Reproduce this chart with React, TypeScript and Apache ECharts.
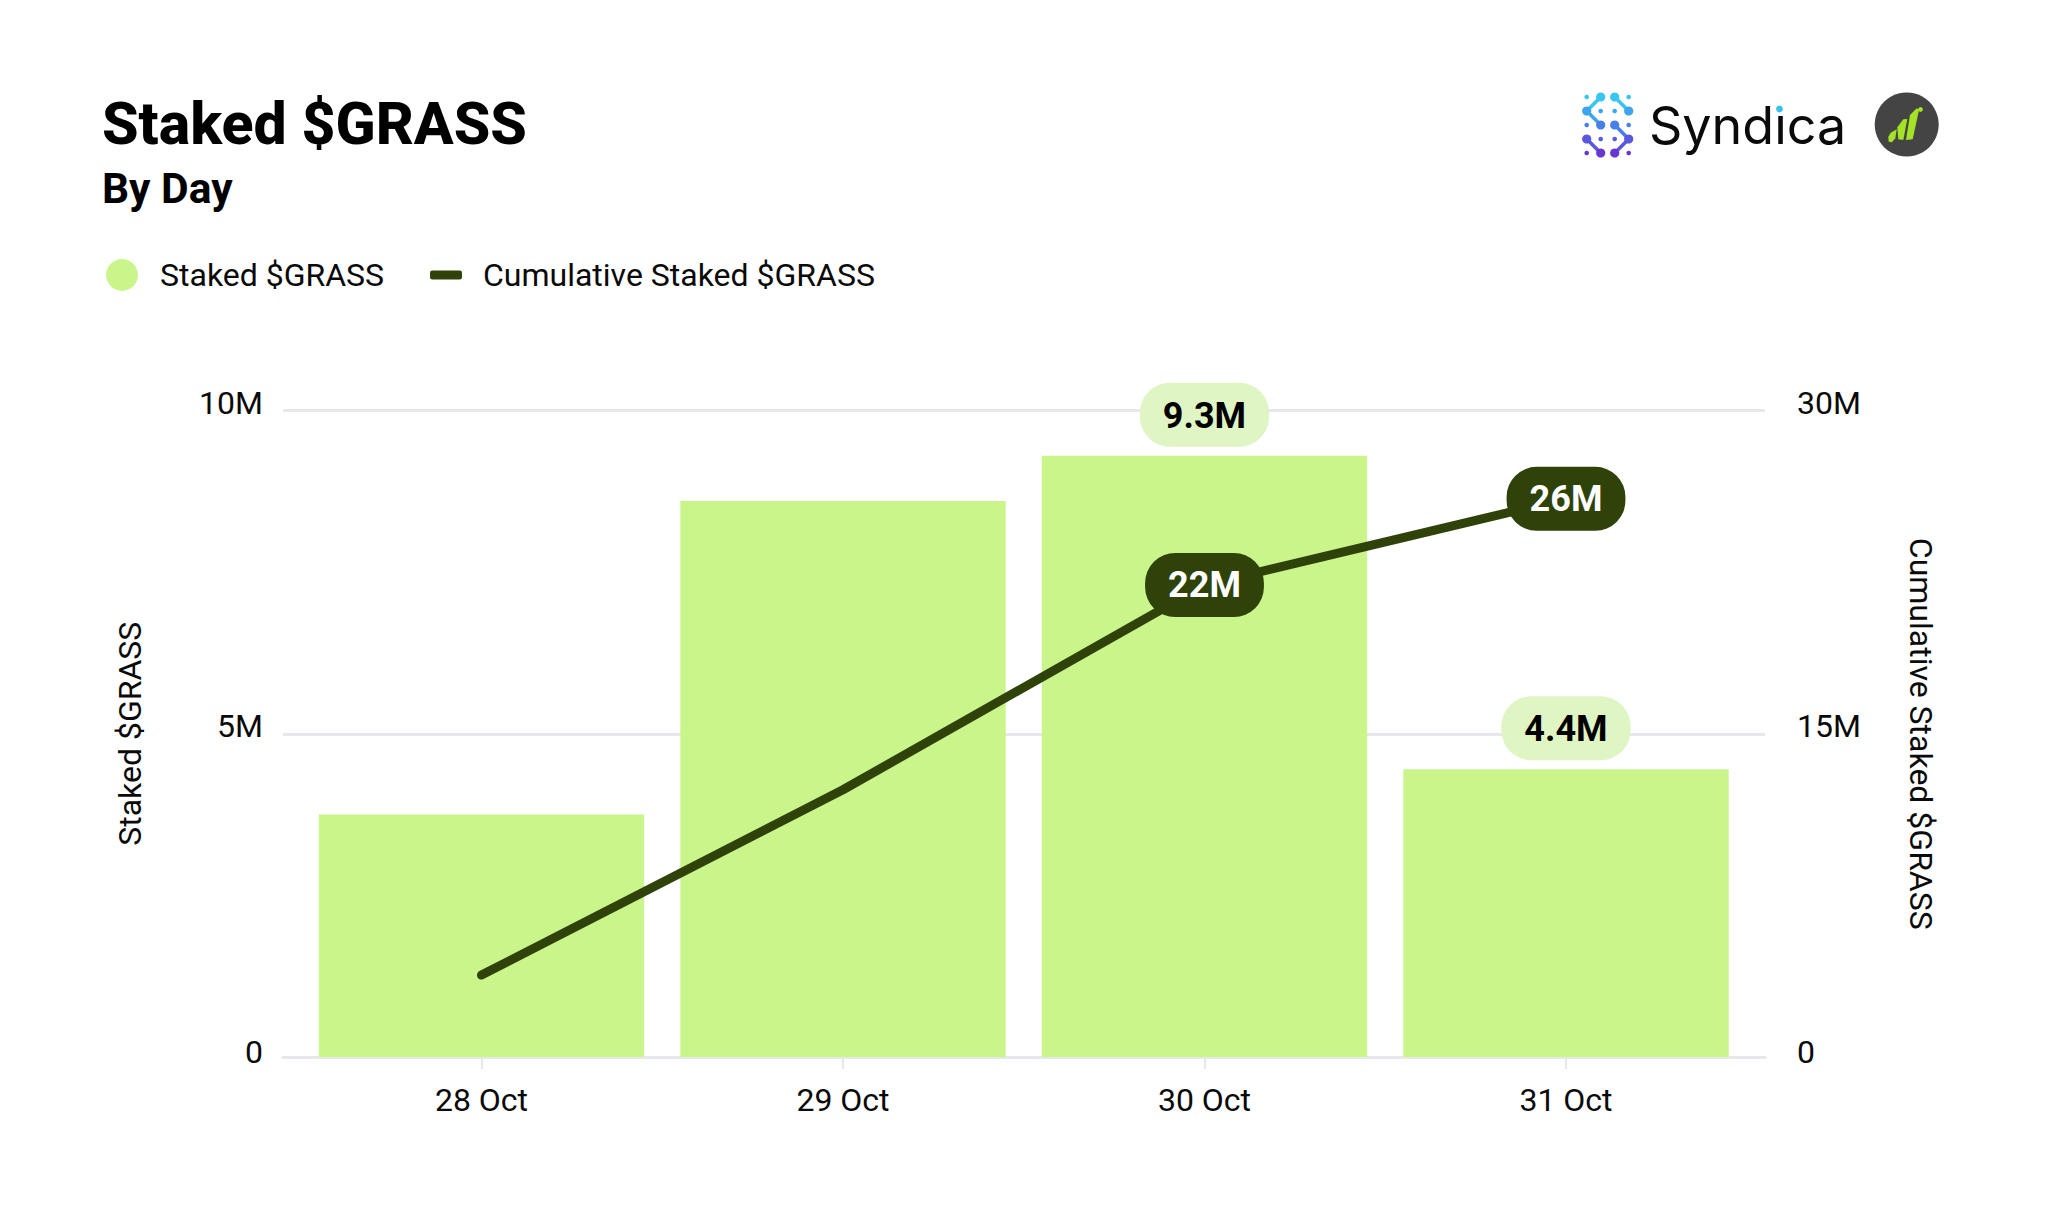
import React, { useEffect, useRef } from "react";
import * as echarts from "echarts";

const categories = ["28 Oct", "29 Oct", "30 Oct", "31 Oct"];
const stakedValues = [3.75, 8.6, 9.3, 4.45];
const cumulativeValues = [3.8, 12.4, 21.9, 25.9];
const stakedLabels = ["", "", "9.3M", "4.4M"];
const cumulativeLabels = ["", "", "22M", "26M"];
const FONT = "Roboto";
const BAR = "#C9F58B";
const DARK = "#2E420A";
const PILL = "#DFF5C4";
const RULE = "#E7E8EC";
const TEXT = "#0A0A0A";

// Syndica mark, on a 4 x 5 lattice
const LX = [1586.7, 1600.7, 1614.7, 1628.7];
const LY = [97, 111, 125, 139, 153];
const ROW_COL = ["#38C6F1", "#3DA4EE", "#4A7FE8", "#5A58DF", "#6A36D2"];
const BIG: number[][] = [[1, 0], [2, 0], [0, 1], [3, 1], [1, 2], [2, 2], [0, 3], [3, 3], [1, 4], [2, 4]];
const SMALL: number[][] = [[0, 0], [3, 0], [1, 1], [2, 1], [0, 2], [3, 2], [1, 3], [2, 3], [0, 4], [3, 4]];
const LINKS: number[][] = [[1, 0, 0, 1], [0, 1, 1, 2], [2, 0, 3, 1], [2, 2, 3, 3], [3, 3, 2, 4], [0, 3, 1, 4]];

// green mark of the second logo
const LEAVES: number[][][] = [
  [[1888.3, 136.7], [1890.7, 132.7], [1896.7, 129.3], [1895.3, 138.3], [1892, 142.3], [1888.7, 141.7]],
  [[1897.3, 127.3], [1903.3, 119.3], [1907.3, 119], [1903.3, 140], [1898.3, 139.3]],
  [[1906, 140], [1910, 115], [1916.7, 108.3], [1919, 110], [1912.7, 139.3]],
];

function logos() {
  const out: any[] = [];
  LINKS.forEach(([a, b, c, d]) =>
    out.push({
      type: "line",
      shape: { x1: LX[a], y1: LY[b], x2: LX[c], y2: LY[d] },
      style: { stroke: ROW_COL[Math.min(b, d)], lineWidth: 3.6, lineCap: "round" },
    })
  );
  BIG.forEach(([a, b]) =>
    out.push({ type: "circle", shape: { cx: LX[a], cy: LY[b], r: 4.6 }, style: { fill: ROW_COL[b] } })
  );
  SMALL.forEach(([a, b]) =>
    out.push({ type: "circle", shape: { cx: LX[a], cy: LY[b], r: 2.3 }, style: { fill: ROW_COL[b] } })
  );
  out.push({
    type: "text",
    x: 1649,
    y: 99,
    style: { text: "Syndica", font: `400 52px Inter`, fill: "#0A0A0A", align: "left", verticalAlign: "top" },
  });
  out.push({ type: "circle", shape: { cx: 1779.5, cy: 109, r: 6 }, style: { fill: "#FFFFFF" }, z: 4 });
  out.push({ type: "circle", shape: { cx: 1779.5, cy: 109, r: 3.4 }, style: { fill: "#35C4E8" }, z: 5 });
  out.push({ type: "circle", shape: { cx: 1906.7, cy: 124.5, r: 32 }, style: { fill: "#444444" } });
  LEAVES.forEach((p) =>
    out.push({ type: "polygon", shape: { points: p }, style: { fill: "#A3E226" }, z: 5 })
  );
  out.push({ type: "circle", shape: { cx: 1920.5, cy: 109.5, r: 2.4 }, style: { fill: "#A3E226" }, z: 5 });
  return out;
}

const yLabelFormatter = (v: number) => (v === 0 ? `{z|0}` : `{a|${v}M}`);
const yLabelRich = {
  a: { fontFamily: FONT, fontSize: 32, color: TEXT, padding: [0, 0, 16, 0] },
  z: { fontFamily: FONT, fontSize: 32, color: TEXT, padding: [0, 0, 10, 0] },
};

export default function App() {
  const ref = useRef<HTMLDivElement>(null);
  useEffect(() => {
    const chart = echarts.init(ref.current!, null, { renderer: "svg" });
    const base = { color: TEXT, fontFamily: FONT, fontSize: 32 };
    chart.setOption({
      animation: false,
      backgroundColor: "#FFFFFF",
      textStyle: { fontFamily: FONT },
      title: [
        { text: "Staked $GRASS", left: 102, top: 94, padding: 0, textStyle: { fontFamily: FONT, fontSize: 59, fontWeight: 800, color: "#000" } },
        { text: "By Day", left: 102, top: 167, padding: 0, textStyle: { fontFamily: FONT, fontSize: 42.5, fontWeight: 700, color: "#000" } },
      ],
      legend: [
        {
          data: [{ name: "Staked $GRASS", icon: "circle" }],
          left: 106, top: 259, padding: 0, itemWidth: 32, itemHeight: 32,
          textStyle: { ...base, padding: [0, 0, 2, 17] },
        },
        {
          data: [{ name: "Cumulative Staked $GRASS", icon: "roundRect" }],
          left: 430, top: 259, padding: 0, itemWidth: 32, itemHeight: 9,
          textStyle: { ...base, padding: [0, 0, 2, 16] },
        },
      ],
      grid: [
        { left: 283, width: 1482, top: 410.5, height: 646.5 },
        { left: 300.75, width: 1446, top: 410.5, height: 646.5 },
      ],
      xAxis: [
        {
          type: "value", gridIndex: 0, min: 0, max: 1,
          axisLine: { show: true, onZero: false, lineStyle: { color: RULE, width: 3 } },
          axisTick: { show: false }, axisLabel: { show: false }, splitLine: { show: false },
        },
        {
          type: "category", gridIndex: 1, data: categories,
          axisLine: { show: false },
          axisTick: { show: true, alignWithLabel: true, length: 12, lineStyle: { color: RULE, width: 2 } },
          axisLabel: { ...base, margin: 27 },
        },
      ],
      yAxis: [
        {
          type: "value", gridIndex: 0, min: 0, max: 10, interval: 5, position: "left",
          name: "Staked $GRASS", nameLocation: "middle", nameRotate: 90, nameGap: 137,
          nameTextStyle: base,
          axisLine: { show: false }, axisTick: { show: false },
          axisLabel: { margin: 20, formatter: yLabelFormatter, rich: yLabelRich },
          splitLine: { show: true, lineStyle: { color: RULE, width: 3 } },
        },
        {
          type: "value", gridIndex: 0, min: 0, max: 30, interval: 15, position: "right",
          name: "Cumulative Staked $GRASS", nameLocation: "middle", nameRotate: -90, nameGap: 140,
          nameTextStyle: base,
          axisLine: { show: false }, axisTick: { show: false },
          axisLabel: { margin: 32, formatter: yLabelFormatter, rich: yLabelRich },
          splitLine: { show: false },
        },
        { type: "value", gridIndex: 1, min: 0, max: 10, show: false },
        { type: "value", gridIndex: 1, min: 0, max: 30, show: false },
      ],
      series: [
        {
          type: "bar", name: "Staked $GRASS", xAxisIndex: 1, yAxisIndex: 2,
          data: stakedValues.map((value, i) => ({ value, label: { show: !!stakedLabels[i] } })),
          barWidth: "90%",
          itemStyle: { color: BAR },
          label: {
            position: "top", distance: 9,
            formatter: (p: any) => stakedLabels[p.dataIndex],
            fontFamily: FONT, fontSize: 36, fontWeight: 700, color: "#000",
            backgroundColor: PILL, borderRadius: 30, padding: [15, 23, 13, 23],
          },
        },
        {
          type: "line", name: "Cumulative Staked $GRASS", xAxisIndex: 1, yAxisIndex: 3,
          data: cumulativeValues.map((value, i) => ({ value, label: { show: !!cumulativeLabels[i] } })),
          symbol: "circle", symbolSize: 1, showSymbol: true,
          z: 5,
          itemStyle: { color: DARK },
          lineStyle: { color: DARK, width: 9, cap: "round" },
          label: {
            position: "inside",
            formatter: (p: any) => cumulativeLabels[p.dataIndex],
            fontFamily: FONT, fontSize: 36, fontWeight: 700, color: "#FFF",
            backgroundColor: DARK, borderRadius: 30, padding: [15, 23, 13, 23],
          },
        },
      ],
      graphic: logos(),
    });
    return () => chart.dispose();
  }, []);
  return <div ref={ref} style={{ position: "absolute", left: 0, top: 0, width: 2048, height: 1227 }} />;
}
